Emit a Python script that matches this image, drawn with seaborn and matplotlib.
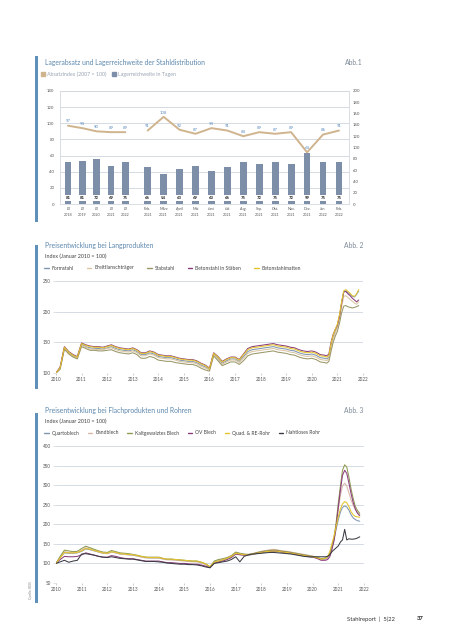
import numpy as np
import pandas as pd
import matplotlib
matplotlib.use("Agg")
import matplotlib.pyplot as plt
import matplotlib.dates as mdates
from matplotlib.patches import Rectangle, Patch
from matplotlib.lines import Line2D
import seaborn as sns

sns.set_theme(style="white")
plt.rcParams["font.family"] = ["Lato", "DejaVu Sans"]

# ---------------- Panel 1 data ----------------
p1_cats = ["Ø\n2018", "Ø\n2019", "Ø\n2020", "Ø\n2021", "Ø\n2022",
           "Feb.\n2021", "März\n2021", "April\n2021", "Mai\n2021", "Juni\n2021",
           "Juli\n2021", "Aug.\n2021", "Sep.\n2021", "Okt.\n2021", "Nov.\n2021",
           "Dez.\n2021", "Jan.\n2022", "Feb.\n2022"]
absatzindex = [97, 94, 90, 89, 89, 91, 108, 92, 87, 94, 91, 84, 89, 87, 89, 64, 86, 91]
reichweite_labels = [81, 81, 72, 69, 75, 66, 54, 63, 69, 60, 66, 75, 72, 75, 72, 99, 75, 75]
reichweite_bars = [74, 76, 80, 67, 74, 66, 53, 62, 67, 59, 66, 74, 71, 74, 71, 90, 74, 74]

# ---------------- Panel 2 / 3 data ----------------
dates = list(pd.date_range("2010-01-01", "2020-05-01", freq="2MS")) + \
        list(pd.date_range("2020-07-01", "2021-11-01", freq="MS"))

formstahl = [
    100, 108, 141, 133, 128, 125,
    147, 143, 141, 140, 140, 139,
    141, 143, 140, 138, 137, 136,
    138, 135, 130, 130, 133, 131,
    127, 126, 125, 125, 123, 121,
    120, 119, 119, 117, 113, 110,
    106, 131, 124, 116, 120, 123,
    123, 119, 127, 135, 138, 139,
    140, 141, 142, 143, 141, 140,
    139, 137, 136, 133, 131, 130,
    131, 129, 125,
    124, 123, 126, 144, 159, 169,
    178, 194, 214, 233, 234, 231, 228, 225, 224, 228, 234]
breitflanschtraeger = [
    100, 107, 140, 132, 127, 124,
    145, 142, 139, 139, 138, 138,
    140, 141, 138, 136, 135, 134,
    136, 133, 128, 128, 131, 129,
    125, 124, 123, 123, 121, 119,
    118, 117, 117, 115, 111, 108,
    105, 130, 122, 114, 118, 121,
    121, 117, 124, 132, 135, 136,
    137, 138, 139, 140, 138, 137,
    136, 134, 133, 130, 128, 127,
    128, 126, 122,
    121, 120, 123, 140, 155, 165,
    174, 189, 208, 225, 226, 223, 220, 217, 214, 212, 216]
stabstahl = [
    100, 106, 139, 131, 126, 123,
    143, 140, 137, 137, 136, 136,
    137, 138, 135, 133, 132, 131,
    133, 130, 124, 124, 127, 125,
    121, 120, 119, 119, 117, 116,
    115, 114, 114, 112, 108, 105,
    103, 128, 120, 112, 115, 118,
    118, 114, 120, 128, 131, 132,
    133, 134, 135, 136, 134, 133,
    132, 130, 129, 126, 124, 123,
    124, 122, 118,
    117, 116, 119, 135, 150, 160,
    168, 182, 198, 209, 210, 208, 207, 206, 207, 208, 210]
betonstahl_staebe = [
    100, 110, 143, 135, 130, 127,
    149, 146, 144, 143, 143, 142,
    144, 146, 143, 141, 140, 139,
    141, 138, 133, 133, 136, 134,
    130, 129, 128, 128, 126, 124,
    123, 122, 122, 120, 116, 113,
    108, 133, 127, 119, 123, 126,
    126, 122, 131, 140, 143, 144,
    145, 146, 147, 148, 146, 145,
    144, 142, 141, 138, 136, 135,
    136, 134, 130,
    129, 128, 131, 150, 163, 171,
    178, 193, 213, 232, 233, 229, 226, 222, 219, 216, 219]
betonstahlmatten = [
    100, 109, 142, 134, 129, 126,
    148, 145, 143, 142, 142, 141,
    143, 145, 142, 140, 139, 138,
    140, 137, 132, 132, 135, 133,
    129, 128, 127, 127, 125, 123,
    122, 121, 121, 119, 115, 112,
    107, 132, 126, 118, 122, 125,
    125, 121, 130, 138, 141, 142,
    143, 144, 145, 146, 144, 143,
    142, 140, 139, 136, 134, 133,
    134, 132, 128,
    127, 126, 129, 148, 162, 171,
    180, 196, 216, 234, 236, 233, 230, 226, 225, 229, 236]

quartoblech = [
    100, 115, 127, 126, 126, 127,
    131, 137, 135, 132, 129, 126,
    125, 129, 127, 124, 123, 122,
    121, 119, 117, 115, 114, 114,
    114, 112, 110, 110, 109, 108,
    107, 106, 105, 105, 102, 98,
    91, 102, 106, 108, 112, 117,
    125, 123, 121, 121, 123, 125,
    127, 129, 130, 131, 130, 128,
    127, 125, 123, 121, 119, 117,
    116, 114, 110,
    111, 114, 124, 142, 162, 188,
    212, 232, 243, 247, 244, 236, 224, 216, 212, 209, 208]
bandblech = [
    100, 116, 130, 128, 127, 128,
    134, 140, 137, 133, 129, 126,
    125, 129, 127, 124, 123, 122,
    121, 119, 116, 114, 114, 114,
    114, 111, 109, 109, 108, 107,
    106, 105, 104, 104, 101, 97,
    90, 104, 108, 111, 114, 119,
    127, 125, 123, 123, 125, 128,
    131, 133, 135, 136, 134, 132,
    131, 129, 127, 125, 123, 121,
    119, 116, 111,
    112, 115, 122, 140, 162, 195,
    240, 275, 298, 305, 298, 280, 262, 248, 238, 230, 224]
kaltgewalztes_blech = [
    100, 118, 134, 132, 130, 131,
    138, 144, 140, 136, 132, 129,
    128, 133, 130, 127, 126, 125,
    123, 121, 118, 116, 116, 116,
    116, 113, 111, 111, 110, 109,
    108, 107, 106, 106, 103, 99,
    91, 106, 110, 112, 115, 120,
    129, 126, 124, 123, 125, 128,
    130, 132, 133, 134, 133, 131,
    130, 128, 126, 124, 122, 120,
    118, 116, 112,
    114, 117, 125, 145, 168, 205,
    255, 300, 338, 352, 346, 320, 290, 265, 245, 235, 228]
ov_blech = [
    100, 110, 118, 117, 117, 118,
    122, 127, 124, 121, 118, 116,
    116, 120, 118, 115, 113, 112,
    112, 110, 108, 106, 106, 106,
    106, 104, 102, 102, 101, 100,
    100, 99, 98, 98, 96, 93,
    89, 101, 104, 106, 110, 115,
    124, 122, 121, 122, 124, 126,
    128, 130, 131, 132, 131, 129,
    128, 126, 124, 122, 120, 118,
    116, 113, 108,
    108, 110, 117, 135, 158, 195,
    245, 290, 325, 338, 330, 305, 278, 255, 238, 228, 222]
quad_re_rohr = [
    100, 114, 128, 127, 127, 128,
    132, 138, 136, 133, 130, 127,
    126, 130, 128, 125, 124, 123,
    122, 120, 118, 116, 115, 115,
    115, 113, 111, 111, 110, 109,
    108, 107, 106, 106, 103, 99,
    92, 103, 106, 109, 113, 118,
    126, 124, 122, 122, 124, 126,
    128, 130, 131, 132, 131, 129,
    128, 126, 124, 122, 120, 118,
    117, 115, 111,
    113, 118, 130, 150, 170, 195,
    220, 240, 252, 258, 255, 245, 232, 224, 220, 219, 218]
nahtloses_rohr = [
    100, 104, 108, 103, 106, 108,
    124, 125, 123, 121, 118, 116,
    115, 117, 115, 113, 112, 111,
    111, 109, 107, 105, 105, 105,
    104, 103, 101, 100, 99, 98,
    98, 97, 97, 96, 94, 91,
    89, 100, 102, 104, 106, 110,
    117, 104, 118, 122, 124, 125,
    126, 127, 128, 128, 127, 126,
    125, 124, 122, 120, 118, 117,
    117, 117, 117,
    117, 118, 122, 130, 135, 140,
    145, 155, 160, 187, 160, 163, 162, 162, 163, 165, 168]

long_names = ["Formstahl", "Breitflanschträger", "Stabstahl", "Betonstahl in Stäben", "Betonstahlmatten"]
long_series = [formstahl, breitflanschtraeger, stabstahl, betonstahl_staebe, betonstahlmatten]
long_colors = ["#7f96b2", "#dcc6a2", "#9a9868", "#8b3d7c", "#e4c42c"]

flat_names = ["Quartoblech", "Bandblech", "Kaltgewalztes Blech", "OV Blech", "Quad. & RE-Rohr", "Nahtloses Rohr"]
flat_series = [quartoblech, bandblech, kaltgewalztes_blech, ov_blech, quad_re_rohr, nahtloses_rohr]
flat_colors = ["#7f96b2", "#d9b8a8", "#8f9a52", "#8b3d7c", "#e4c42c", "#3b3b44"]

# ---------------- styling ----------------
W, H = 453, 640
def fx(px): return px / W
def fy(py): return 1 - py / H

TITLE_C = "#5b87ad"
ABB_C = "#7d8a98"
TICK_C = "#555555"
GRID_C = "#cdd6de"
BAR_C = "#7d8fa8"
LINE_C = "#cfb48e"
LABEL_BLUE = "#5b8cbd"

fig = plt.figure(figsize=(W / 100, H / 100), dpi=100)
fig.patch.set_facecolor("white")

# left blue accent bars
for top, bot in [(56, 222), (245, 389), (413, 603)]:
    fig.add_artist(Rectangle((fx(35), fy(bot)), fx(3), fy(top) - fy(bot),
                             transform=fig.transFigure, color="#5f90b9", lw=0))

def header(title, abb, ytitle):
    fig.text(fx(45), fy(ytitle), title, fontsize=4.9, color=TITLE_C, va="center", ha="left")
    fig.text(fx(363), fy(ytitle), abb, fontsize=4.9, color=ABB_C, va="center", ha="right")

# ---------------- Panel 1 ----------------
header("Lagerabsatz und Lagerreichweite der Stahldistribution", "Abb.1", 62.5)
fig.legend(handles=[Patch(color=LINE_C), Patch(color=BAR_C)],
           labels=["Absatzindex (2007 = 100)", "Lagerreichweite in Tagen"],
           loc="center left", bbox_to_anchor=(fx(41), fy(74.5)), ncol=2, frameon=False,
           fontsize=3.8, handlelength=0.8, handleheight=0.8, handletextpad=0.4,
           columnspacing=1.0, labelcolor="#9aa6b2", borderaxespad=0, borderpad=0)

pos = np.r_[np.arange(5) * 0.9, 5 + np.arange(13)]

ax1 = fig.add_axes([fx(60), fy(204), fx(349) - fx(60), fy(91) - fy(204)])
ax_bar = ax1.twinx()
ax_line = ax1.twinx()

sns.barplot(x=pos, y=reichweite_bars, native_scale=True, width=0.47, color=BAR_C,
            saturation=1, ax=ax_bar, linewidth=0)
n0 = 5
sns.lineplot(x=pos[:n0], y=absatzindex[:n0], ax=ax_line, color=LINE_C, linewidth=1.4)
sns.lineplot(x=pos[n0:], y=absatzindex[n0:], ax=ax_line, color=LINE_C, linewidth=1.4)

for p, v in zip(pos, absatzindex):
    ax_line.annotate(str(v), (p, v), xytext=(0, 1.6), textcoords="offset points",
                     ha="center", va="bottom", fontsize=3.1, color=LABEL_BLUE)
for p, v in zip(pos, reichweite_labels):
    ax_bar.text(p, 11, str(v), ha="center", va="center", fontsize=3.1, fontweight="bold",
                color="#222222",
                bbox=dict(boxstyle="square,pad=0.25", fc="white", ec="none"))

ax1.set_ylim(0, 140)
ax1.set_yticks(np.arange(0, 141, 20))
ax_line.set_ylim(0, 140)
ax_bar.set_ylim(0, 200)
ax_bar.set_yticks(np.arange(0, 201, 20))
ax1.set_xlim(-0.5, 17.63)
ax1.set_xticks(pos)
ax1.set_xticklabels(p1_cats, fontsize=2.7, color=TICK_C, linespacing=1.5)
ax1.yaxis.grid(True, color=GRID_C, lw=0.6)
ax1.set_axisbelow(True)
ax1.tick_params(axis="both", length=0, pad=2.5)
ax1.tick_params(axis="y", labelsize=3.1, labelcolor=TICK_C, pad=4)
ax_bar.tick_params(axis="y", length=0, labelsize=3.1, labelcolor=TICK_C, pad=3)
ax_line.yaxis.set_visible(False)
for a in (ax_bar, ax_line):
    for s in a.spines.values():
        s.set_visible(False)
    a.set_xlabel("")
    a.set_ylabel("")
for s in ax1.spines.values():
    s.set_color("#d3d9df")
    s.set_linewidth(0.6)

# ---------------- Panel 2/3 helper ----------------
def line_panel(rect, names, series, colors, ylim, yticks):
    ax = fig.add_axes(rect)
    df = pd.DataFrame({"date": dates})
    for n, s in zip(names, series):
        df[n] = s
    long = df.melt(id_vars="date", var_name="serie", value_name="wert")
    sns.lineplot(data=long, x="date", y="wert", hue="serie", hue_order=names,
                 palette=dict(zip(names, colors)), linewidth=0.75, legend=False, ax=ax)
    ax.set_ylim(*ylim)
    ax.set_yticks(yticks)
    ax.set_xlim(pd.Timestamp("2010-01-01"), pd.Timestamp("2022-01-01"))
    ax.xaxis.set_major_locator(mdates.YearLocator())
    ax.xaxis.set_major_formatter(mdates.DateFormatter("%Y"))
    ax.yaxis.grid(True, color=GRID_C, lw=0.6)
    ax.set_axisbelow(True)
    for s in ax.spines.values():
        s.set_visible(False)
    ax.tick_params(axis="x", length=1.5, width=0.4, color="#aaaaaa", labelsize=3.3,
                   labelcolor=TICK_C, pad=1.5, bottom=True)
    ax.tick_params(axis="y", length=2, width=0.5, color=GRID_C, labelsize=3.3,
                   labelcolor=TICK_C, pad=1.5, left=True)
    ax.set_xlabel("")
    ax.set_ylabel("")
    return ax

def line_legend(names, colors, yp, spacing):
    fig.legend(handles=[Line2D([], [], color=c, lw=1.0) for c in colors], labels=names,
               loc="center left", bbox_to_anchor=(fx(44), fy(yp)), ncol=len(names),
               frameon=False, fontsize=3.6, handlelength=0.9, handletextpad=0.6,
               columnspacing=spacing, labelcolor="#444444", borderaxespad=0, borderpad=0)

# ---------------- Panel 2 ----------------
header("Preisentwicklung bei Langprodukten", "Abb. 2", 245.5)
fig.text(fx(45), fy(256.5), "Index (Januar 2010 = 100)", fontsize=3.9, color="#444444", va="center")
line_legend(long_names, long_colors, 268, 2.6)
line_panel([fx(56), fy(373), fx(363) - fx(56), fy(281) - fy(373)],
           long_names, long_series, long_colors, (100, 250), [100, 150, 200, 250])

# ---------------- Panel 3 ----------------
header("Preisentwicklung bei Flachprodukten und Rohren", "Abb. 3", 410.5)
fig.text(fx(45), fy(421), "Index (Januar 2010 = 100)", fontsize=3.9, color="#444444", va="center")
line_legend(flat_names, flat_colors, 433, 1.7)
line_panel([fx(56), fy(583), fx(364) - fx(56), fy(446) - fy(583)],
           flat_names, flat_series, flat_colors, (50, 400), np.arange(50, 401, 50))

# source + footer
fig.text(fx(30), fy(590), "Quelle: BDS", rotation=90, fontsize=2.4, color="#8a8a8a",
         ha="center", va="center")
fig.text(fx(395), fy(619), "Stahlreport  |  5|22", fontsize=4.2, color="#333333",
         ha="right", va="center")
fig.text(fx(417), fy(619), "37", fontsize=4.2, color="#222222", fontweight="bold",
         ha="left", va="center")

fig.savefig("out.png", dpi=100, facecolor="white")
